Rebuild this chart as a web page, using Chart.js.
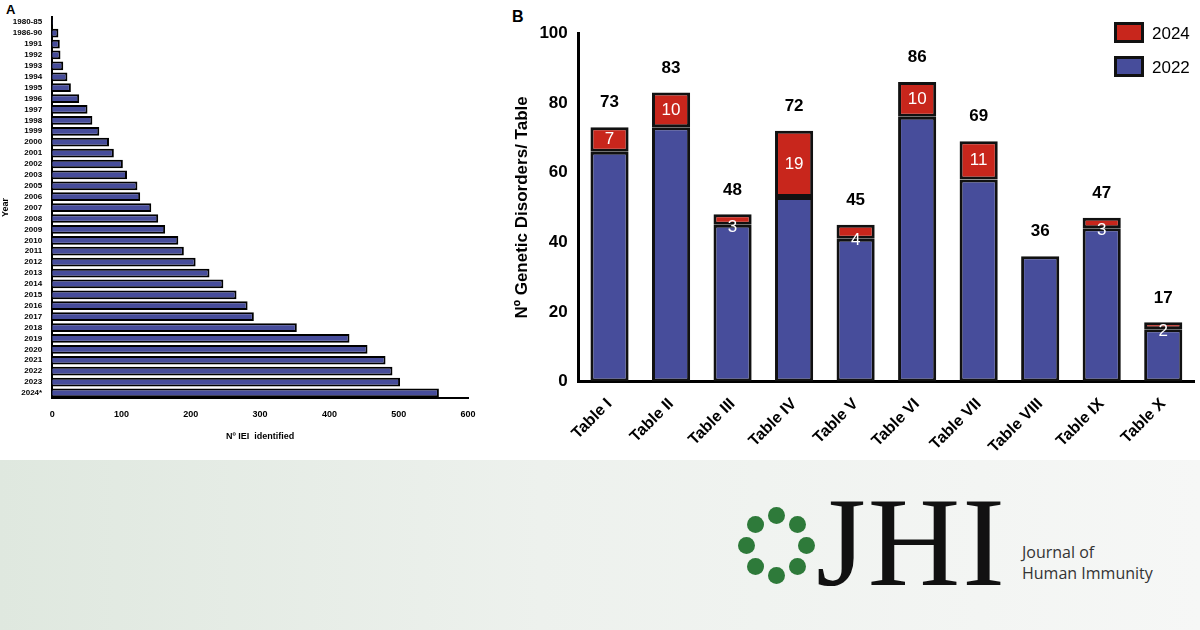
<!DOCTYPE html>
<html>
<head>
<meta charset="utf-8">
<script src="https://cdn.jsdelivr.net/npm/chart.js@4"></script>
<style>
  body { margin: 0; width: 1200px; height: 630px; overflow: hidden; background: #fff; font-family: Arial, "Liberation Sans", sans-serif; position: relative; }
  #left { position: absolute; left: 0; top: 10px; }
  #right { position: absolute; left: 508px; top: 20px; }
  .panel { position: absolute; font-weight: bold; font-family: "Liberation Sans", Arial, sans-serif; }
  #band { position: absolute; left: 0; top: 460px; width: 1200px; height: 170px; background: linear-gradient(90deg, #dfe8df 0%, #edf1ed 45%, #f6f7f6 100%); }
  #jhi { position: absolute; left: 816px; top: 478px; font-family: "Liberation Serif", "DejaVu Serif", serif; font-size: 128px; line-height: 128px; color: #111; letter-spacing: 2px; }
  #jname { position: absolute; left: 1022px; top: 542px; font-family: "Open Sans", sans-serif; font-size: 16px; line-height: 21px; color: #333; }
  .dot { position: absolute; width: 17px; height: 17px; border-radius: 50%; background: #2e7a3a; }
  .leg { position: absolute; left: 1114px; font-size: 17px; color: #000; }
  .leg span { display: inline-block; width: 24px; height: 15px; border: 3px solid #111; vertical-align: -4px; margin-right: 8px; }
</style>
</head>
<body>
<div class="panel" style="left:6px;top:2px;font-size:13px">A</div>
<div class="panel" style="left:512px;top:8px;font-size:16px">B</div>
<canvas id="left" width="480" height="440"></canvas>
<canvas id="right" width="688" height="440"></canvas>
<div class="leg" style="top:22px"><span style="background:#c8261c"></span>2024</div>
<div class="leg" style="top:56px"><span style="background:#474d9b"></span>2022</div>
<div id="band">
  <div id="logo"></div>
</div>
<div id="jhi">JHI</div>
<div id="jname">Journal of<br>Human Immunity</div>
<script>
// Panel A
var years = ["1980-85","1986-90","1991","1992","1993","1994","1995","1996","1997","1998","1999","2000","2001","2002","2003","2005","2006","2007","2008","2009","2010","2011","2012","2013","2014","2015","2016","2017","2018","2019","2020","2021","2022","2023","2024*"];
var ieiCounts = [1,9,11,12,16,22,27,39,51,58,68,82,89,102,108,123,127,143,153,163,182,190,207,227,247,266,282,291,353,429,455,481,491,502,558];

// Panel B
var tables = ["Table I","Table II","Table III","Table IV","Table V","Table VI","Table VII","Table VIII","Table IX","Table X"];
var count2022 = [66,73,45,53,41,76,58,36,44,15];
var count2024 = [7,10,3,19,4,10,11,0,3,2];
var totals = [73,83,48,72,45,86,69,36,47,17];

var blue = "#474d9b", red = "#c8261c";

// logo ring
var logo = document.getElementById("logo");
for (var i = 0; i < 8; i++) {
  var a = i * Math.PI / 4;
  var d = document.createElement("div");
  d.className = "dot";
  d.style.left = (776 + 30 * Math.cos(a) - 8) + "px";
  d.style.top = (85 + 30 * Math.sin(a) - 8) + "px";
  logo.appendChild(d);
}

new Chart(document.getElementById("left"), {
  type: 'bar',
  data: { labels: years, datasets: [{ data: ieiCounts, backgroundColor: blue, borderColor: "#000", borderWidth: 2, barPercentage: 0.8, categoryPercentage: 1 }] },
  options: {
    indexAxis: 'y', animation: false, responsive: false,
    layout: { padding: { top: 4, right: 12, bottom: 4 } },
    plugins: { legend: { display: false }, tooltip: { enabled: false } },
    scales: {
      x: { min: 0, max: 600, ticks: { stepSize: 100, color: "#000", font: { size: 9, weight: 'bold' } },
           grid: { display: false, drawTicks: true }, border: { color: "#000", width: 2 },
           title: { display: true, text: "Nº IEI  identified", color: "#000", font: { size: 9, weight: 'bold' }, padding: { top: 8 } } },
      y: { ticks: { color: "#000", autoSkip: false, font: { size: 8, weight: 'bold' }, padding: 2 },
           grid: { display: false }, border: { color: "#000", width: 2 },
           title: { display: true, text: "Year", color: "#000", font: { size: 9, weight: 'bold' }, padding: 0 } }
    }
  }
});

var labelPlugin = {
  id: 'labels',
  afterDatasetsDraw: function (chart) {
    var ctx = chart.ctx;
    var m2022 = chart.getDatasetMeta(0);
    ctx.save();
    ctx.textAlign = 'center';
    for (var i = 0; i < totals.length; i++) {
      var top = chart.scales.y.getPixelForValue(totals[i]);
      var x = m2022.data[i].x;
      ctx.fillStyle = "#000";
      ctx.font = "bold 17px Arial, sans-serif";
      ctx.textBaseline = 'bottom';
      ctx.fillText(totals[i], x, top - 16);
      if (count2024[i] > 0) {
        var y = chart.scales.y.getPixelForValue(count2022[i] + count2024[i] / 2);
        if (count2024[i] < 5) y = chart.scales.y.getPixelForValue(count2022[i]) + 2;
        ctx.fillStyle = "#fff";
        ctx.font = "17px Arial, sans-serif";
        ctx.textBaseline = 'middle';
        ctx.fillText(count2024[i], x, y);
      }
    }
    ctx.restore();
  }
};

new Chart(document.getElementById("right"), {
  type: 'bar',
  data: {
    labels: tables,
    datasets: [
      { label: "2022", data: count2022, backgroundColor: blue, borderColor: "#111", borderWidth: 3, borderSkipped: false, stack: 's' },
      { label: "2024", data: count2024, backgroundColor: red, borderColor: "#111", borderWidth: 3, borderSkipped: false, stack: 's' }
    ]
  },
  options: {
    animation: false, responsive: false,
    datasets: { bar: { barPercentage: 0.62, categoryPercentage: 1 } },
    layout: { padding: { top: 4, right: 2 } },
    plugins: { tooltip: { enabled: false }, legend: { display: false } },
    scales: {
      x: { stacked: true, grid: { display: false, drawTicks: true, tickLength: 10, tickWidth: 3, tickColor: "#000" }, border: { color: "#000", width: 3 },
           ticks: { color: "#000", maxRotation: 45, minRotation: 45, font: { size: 16, weight: 'bold' } } },
      y: { stacked: true, min: 0, max: 100, grid: { display: false, drawTicks: true, tickLength: 8, tickWidth: 3, tickColor: "#000" }, border: { color: "#000", width: 3 },
           ticks: { stepSize: 20, color: "#000", font: { size: 17, weight: 'bold' } },
           title: { display: true, text: "Nº Genetic Disorders/ Table", color: "#000", font: { size: 17, weight: 'bold' } } }
    }
  },
  plugins: [labelPlugin]
});
</script>
</body>
</html>
